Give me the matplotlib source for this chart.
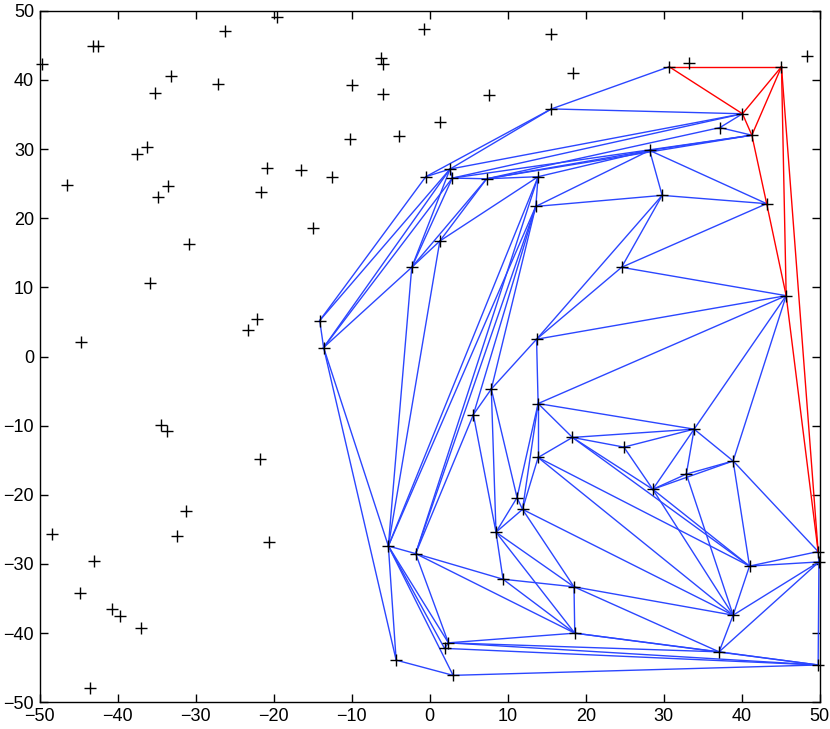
import matplotlib
matplotlib.use("Agg")
import matplotlib.pyplot as plt

# Points not in the mesh
free_x = [-49.7, -43.1, -42.5, -26.2, -19.6, -27.1, -33.1, -35.2, -36.3, -37.5, -46.5, -34.8, -33.6,
          -21.6, -20.8, -16.5, -30.8, -35.9, -44.7, -22.2, -23.3, -34.4, -33.7, -21.7, -31.2, -48.4,
          -32.4, -20.6, -43.0, -44.8, -40.7, -39.7, -37.0, -43.6, -0.7, 15.6, -6.3, -6.0, -10.0, -6.0,
          7.6, 1.3, -3.9, -10.2, -12.5, -15.0, 18.4, 33.3, 48.4]
free_y = [42.3, 44.9, 44.9, 47.1, 49.1, 39.4, 40.6, 38.1, 30.3, 29.3, 24.8, 23.1, 24.6,
          23.8, 27.2, 26.9, 16.3, 10.6, 2.05, 5.4, 3.9, -9.9, -10.8, -14.8, -22.4, -25.7,
          -26.0, -26.8, -29.6, -34.2, -36.5, -37.5, -39.2, -48.0, 47.3, 46.7, 43.1, 42.3, 39.2, 38.0,
          37.8, 33.9, 31.9, 31.4, 26.0, 18.6, 41.0, 42.5, 43.5]

# Mesh nodes
node_names = ["A", "B", "C", "D", "E", "F", "G", "H", "I", "J", "K", "L", "M", "N", "O", "P", "Q", "R",
              "S", "T", "U", "V", "W", "X", "Y", "Z", "a", "b", "c", "d", "e", "f", "g", "h", "i", "j",
              "k", "l", "m", "n", "o", "p", "q", "r", "s", "t", "u", "v", "w", "x"]
node_x = [-14.1, -13.6, -0.5, 2.6, 2.9, 7.3, 13.9, 15.6, 30.7, 45.1, 40.1, 37.2, 41.3, 28.2, 29.8, 43.2,
          24.6, 45.7, 13.6, 1.3, -2.3, 13.7, 7.9, 5.6, 13.9, 13.9, 11.2, 11.9, 8.5, -5.3, -1.8, 9.4,
          18.3, 24.9, 33.9, 38.9, 32.9, 28.6, 18.5, 18.6, 41.0, 38.9, 37.1, 49.8, 49.9, 49.8, 2.4, 1.9,
          -4.3, 3.0]
node_y = [5.2, 1.3, 26.0, 27.1, 25.8, 25.7, 26.0, 35.8, 41.9, 41.9, 35.1, 33.1, 32.0, 29.8, 23.3, 22.1,
          12.9, 8.8, 21.7, 16.7, 12.9, 2.5, -4.7, -8.4, -6.8, -14.6, -20.4, -22.1, -25.4, -27.4, -28.5,
          -32.2, -11.7, -13.1, -10.5, -15.1, -17.0, -19.2, -33.3, -40.0, -30.3, -37.4, -42.7, -28.2,
          -29.7, -44.6, -41.4, -42.2, -43.9, -46.1]

blue_edges = ["H-I", "H-K", "H-C", "H-D", "K-L", "L-M", "D-K", "E-K", "E-M", "F-L", "F-M", "F-N",
              "G-N", "M-N", "N-O", "N-P", "N-S", "O-P", "O-Q", "O-V", "O-S", "P-Q", "Q-R", "Q-V",
              "V-R", "R-Y", "R-i", "R-j", "C-D", "D-E", "E-F", "F-G", "G-S", "A-B", "A-C", "A-D",
              "B-D", "B-E", "B-U", "U-T", "U-D", "U-E", "U-F", "T-F", "T-G", "U-d", "T-d", "B-d",
              "B-w", "G-d", "S-d", "G-e", "S-e", "S-X", "S-W", "V-W", "V-Y", "W-X", "X-e", "X-c",
              "W-c", "W-a", "Y-a", "Y-b", "Y-Z", "Z-b", "a-b", "a-c", "b-c", "Y-i", "Y-g", "g-i",
              "g-h", "h-i", "h-l", "l-i", "i-k", "k-j", "l-k", "l-j", "i-j", "Z-g", "g-l", "g-o",
              "l-o", "Z-o", "Z-p", "b-p", "b-m", "c-m", "c-n", "f-n", "f-m", "c-f", "e-f", "e-n",
              "d-e", "d-w", "d-u", "d-v", "d-x", "e-u", "w-x", "u-v", "u-n", "u-q", "v-t", "u-t",
              "x-t", "m-n", "m-p", "m-q", "n-q", "q-t", "n-t", "p-q", "p-o", "p-s", "q-s", "o-s",
              "o-r", "s-t", "r-s", "j-o", "j-r", "l-p", "k-p"]
red_edges = ["I-J", "I-K", "K-J", "J-M", "K-M", "M-P", "P-R", "J-R", "R-r", "J-r"]

idx = {n: i for i, n in enumerate(node_names)}

fig = plt.figure(figsize=(8.3, 7.29), dpi=100)
ax = fig.add_axes([0.0478, 0.0366, 0.9398, 0.9487])

for e in blue_edges:
    p, q = e.split("-")
    ax.plot([node_x[idx[p]], node_x[idx[q]]], [node_y[idx[p]], node_y[idx[q]]],
            color="#2b46ff", lw=1.0, zorder=2)
for e in red_edges:
    p, q = e.split("-")
    ax.plot([node_x[idx[p]], node_x[idx[q]]], [node_y[idx[p]], node_y[idx[q]]],
            color="#ff0000", lw=1.0, zorder=3)

ax.plot(free_x, free_y, "+", color="black", ms=8.5, mew=1.0, zorder=4, clip_on=False)
ax.plot(node_x, node_y, "+", color="black", ms=8.5, mew=1.0, zorder=4, clip_on=False)

ax.set_xlim(-50, 50)
ax.set_ylim(-50, 50)
ax.set_xticks(range(-50, 51, 10))
ax.set_yticks(range(-50, 51, 10))
ax.tick_params(direction="in", top=True, right=True, length=6, width=1,
               labelsize=13, pad=4)
for lab in ax.get_xticklabels() + ax.get_yticklabels():
    lab.set_family("Liberation Sans")
for s in ax.spines.values():
    s.set_linewidth(1.0)

fig.savefig("out.png", dpi=100)
